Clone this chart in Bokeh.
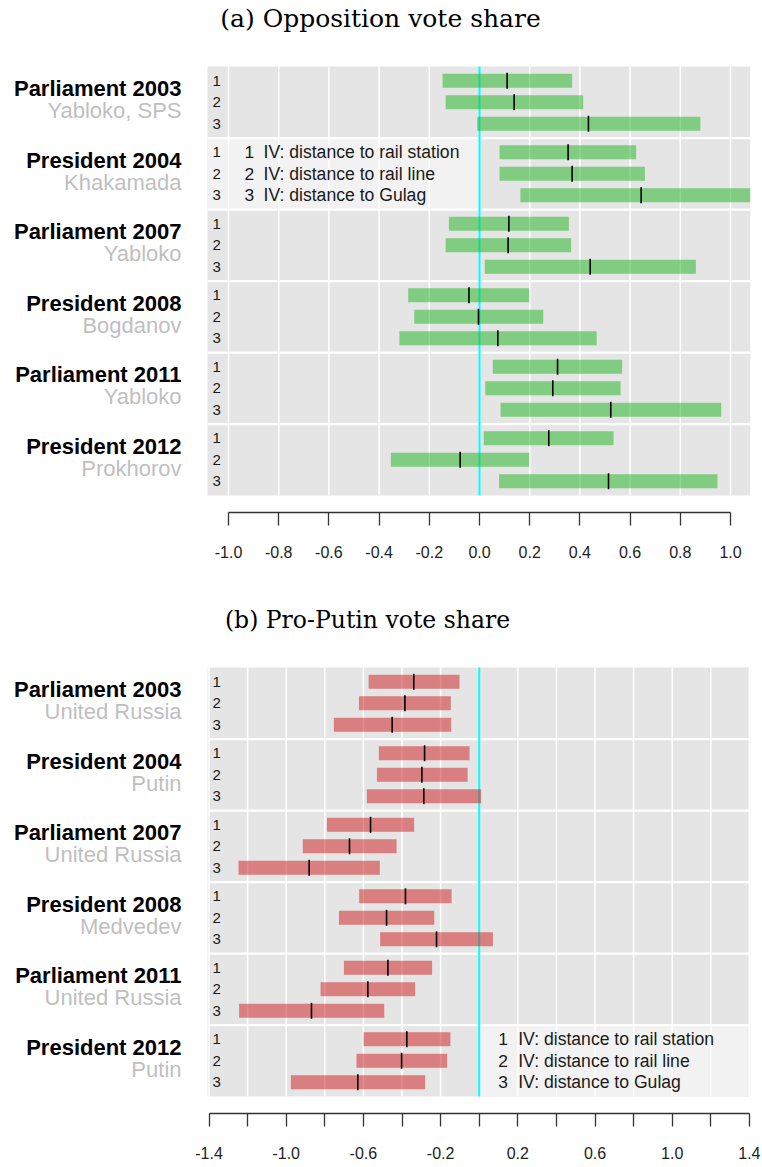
from bokeh.plotting import figure
from bokeh.models import Range1d, LinearAxis, FixedTicker, PrintfTickFormatter
from bokeh.layouts import column
from bokeh.embed import file_html
from bokeh.resources import INLINE
from bokeh.core.properties import value

# ---------------- data ----------------
elections = ["Parliament 2003", "President 2004", "Parliament 2007",
             "President 2008", "Parliament 2011", "President 2012"]
opp_parties = ["Yabloko, SPS", "Khakamada", "Yabloko", "Bogdanov", "Yabloko", "Prokhorov"]
putin_parties = ["United Russia", "Putin", "United Russia", "Medvedev", "United Russia", "Putin"]
iv_ids = ["1", "2", "3"]
iv_labels = ["IV: distance to rail station", "IV: distance to rail line", "IV: distance to Gulag"]

# opposition vote share: lower bound, estimate, upper bound (3 IVs per election)
opp_lo = [-0.147, -0.135, -0.009, 0.080, 0.080, 0.163, -0.122, -0.135, 0.021,
          -0.284, -0.260, -0.319, 0.053, 0.023, 0.084, 0.017, -0.353, 0.078]
opp_est = [0.110, 0.138, 0.434, 0.353, 0.369, 0.644, 0.117, 0.114, 0.441,
           -0.042, -0.004, 0.073, 0.311, 0.292, 0.523, 0.276, -0.077, 0.514]
opp_hi = [0.369, 0.413, 0.880, 0.624, 0.659, 1.125, 0.356, 0.365, 0.862,
          0.198, 0.254, 0.467, 0.568, 0.562, 0.963, 0.534, 0.198, 0.948]

# pro-Putin vote share
put_lo = [-0.573, -0.623, -0.753, -0.520, -0.530, -0.582, -0.789, -0.914, -1.247,
          -0.622, -0.727, -0.513, -0.701, -0.822, -1.244, -0.599, -0.636, -0.976]
put_est = [-0.339, -0.385, -0.451, -0.283, -0.297, -0.287, -0.563, -0.672, -0.881,
           -0.382, -0.480, -0.221, -0.473, -0.577, -0.869, -0.375, -0.402, -0.629]
put_hi = [-0.102, -0.147, -0.145, -0.050, -0.060, 0.010, -0.337, -0.428, -0.515,
          -0.143, -0.233, 0.071, -0.244, -0.332, -0.492, -0.149, -0.166, -0.280]

opp_ticks = [-1.0, -0.8, -0.6, -0.4, -0.2, 0.0, 0.2, 0.4, 0.6, 0.8, 1.0]
put_ticks = [-1.4, -1.0, -0.6, -0.2, 0.2, 0.6, 1.0, 1.4]
put_minor = [-1.2, -0.8, -0.4, 0.0, 0.4, 0.8, 1.2]

# ---------------- layout constants (pixels) ----------------
W = 762
FRAME_H = 512
PLOT_L, PLOT_R = 207, 750
ROW0, ROW_STEP, GROUP_STEP, HALF_GAP = 80.3, 21.5, 71.5, 14.25
BAR_H = 14
SANS = value("Liberation Sans")


def panel(title, title_cx, title_size, lo, est, hi, subtitles, fill, zero_px, px_unit,
          major, minor, grid, legend_group, legend_side, fig_h):
    def X(px):
        return (px - zero_px) / px_unit

    p = figure(width=W, height=fig_h,
               x_range=Range1d(X(0), X(PLOT_R)), y_range=Range1d(FRAME_H, 0),
               output_backend="svg", toolbar_location=None,
               min_border_left=0, min_border_right=W - PLOT_R,
               min_border_top=0, min_border_bottom=fig_h - FRAME_H,
               x_axis_location=None, y_axis_location=None,
               outline_line_color=None, background_fill_color="white",
               border_fill_color="white")
    p.xgrid.visible = False
    p.ygrid.visible = False
    p.grid.visible = False

    n_groups = len(elections)
    xl, xr = X(PLOT_L), X(PLOT_R)
    g_top = [ROW0 - HALF_GAP + g * GROUP_STEP for g in range(n_groups)]
    g_bot = [t + GROUP_STEP for t in g_top]
    plot_top, plot_bot = g_top[0], g_bot[-1]

    # group panels
    p.quad(left=xl, right=xr, top=g_top, bottom=g_bot, fill_color="#e5e5e5", line_color=None)
    # legend box
    if legend_side == "left":
        lb_l, lb_r = xl, 0.0
    else:
        lb_l, lb_r = 0.0, xr
    p.quad(left=[lb_l], right=[lb_r], top=[g_top[legend_group]], bottom=[g_bot[legend_group]],
           fill_color="#f2f2f2", line_color=None)
    # grid lines
    p.segment(x0=grid, x1=grid, y0=plot_top, y1=plot_bot, line_color="white", line_width=1.5)
    # separators
    seps = g_bot[:-1]
    p.segment(x0=xl, x1=xr, y0=seps, y1=seps, line_color="white", line_width=2.2)
    # zero line
    p.segment(x0=[0.0], x1=[0.0], y0=[plot_top], y1=[plot_bot], line_color="#00ffff", line_width=2)

    ys = [ROW0 + g * GROUP_STEP + r * ROW_STEP for g in range(n_groups) for r in range(3)]
    p.hbar(y=ys, left=lo, right=hi, height=BAR_H, fill_color=fill, fill_alpha=0.5, line_color=None)
    p.segment(x0=est, x1=est, y0=[y - 8 for y in ys], y1=[y + 8 for y in ys],
              line_color="black", line_width=1.6)

    # row numbers
    p.text(x=xl, y=ys, text=iv_ids * n_groups, x_offset=5, text_baseline="middle",
           text_align="left", text_font=SANS, text_font_size="15px", text_color="#1a1a1a")

    # left labels
    centers = [ROW0 + g * GROUP_STEP + ROW_STEP for g in range(n_groups)]
    p.text(x=xl, y=centers, text=elections, x_offset=-26, y_offset=-13.5,
           text_align="right", text_baseline="middle", text_font=SANS,
           text_font_style="bold", text_font_size="22px", text_color="black")
    p.text(x=xl, y=centers, text=subtitles, x_offset=-26, y_offset=8.5,
           text_align="right", text_baseline="middle", text_font=SANS,
           text_font_size="22px", text_color="#bfbfbf")

    # legend
    ly = [ROW0 + legend_group * GROUP_STEP + r * ROW_STEP for r in range(3)]
    num_off, txt_off = (37, 56) if legend_side == "left" else (19, 39)
    p.text(x=lb_l, y=ly, text=iv_ids, x_offset=num_off, text_baseline="middle",
           text_font=SANS, text_font_size="17.4px", text_color="#1a1a1a")
    p.text(x=lb_l, y=ly, text=iv_labels, x_offset=txt_off, text_baseline="middle",
           text_font=SANS, text_font_size="17.6px", text_color="#1a1a1a")

    # title
    p.text(x=[X(title_cx)], y=[18], text=[title], text_align="center", text_baseline="middle",
           text_font=value("DejaVu Serif"), text_font_size=title_size, text_color="black")

    ax = LinearAxis(ticker=FixedTicker(ticks=major, minor_ticks=minor),
                    formatter=PrintfTickFormatter(format="%.1f"),
                    bounds=(min(major), max(major)))
    ax.major_tick_in = 0
    ax.major_tick_out = 13
    ax.minor_tick_in = 0
    ax.minor_tick_out = 13
    ax.axis_line_color = "#333333"
    ax.axis_line_width = 1.3
    ax.major_tick_line_color = "#333333"
    ax.major_tick_line_width = 1.3
    ax.minor_tick_line_color = "#333333"
    ax.minor_tick_line_width = 1.3
    ax.major_label_text_font = "Liberation Sans"
    ax.major_label_text_font_size = "16px"
    ax.major_label_text_color = "#222222"
    ax.major_label_standoff = 20
    p.add_layout(ax, "below")
    return p


pa = panel("(a) Opposition vote share", 380, "25px", opp_lo, opp_est, opp_hi, opp_parties,
           "#1bb31b", 479.0, 251.0, opp_ticks, [], opp_ticks, 1, "left", 601)
pb = panel("(b) Pro-Putin vote share", 367, "23.5px", put_lo, put_est, put_hi, putin_parties,
           "#cd1919", 478.7, 193.0, put_ticks, put_minor, sorted(put_ticks + put_minor), 5,
           "right", 566)

layout = column(pa, pb, spacing=0)
open("out.html", "w").write(file_html(layout, INLINE))
